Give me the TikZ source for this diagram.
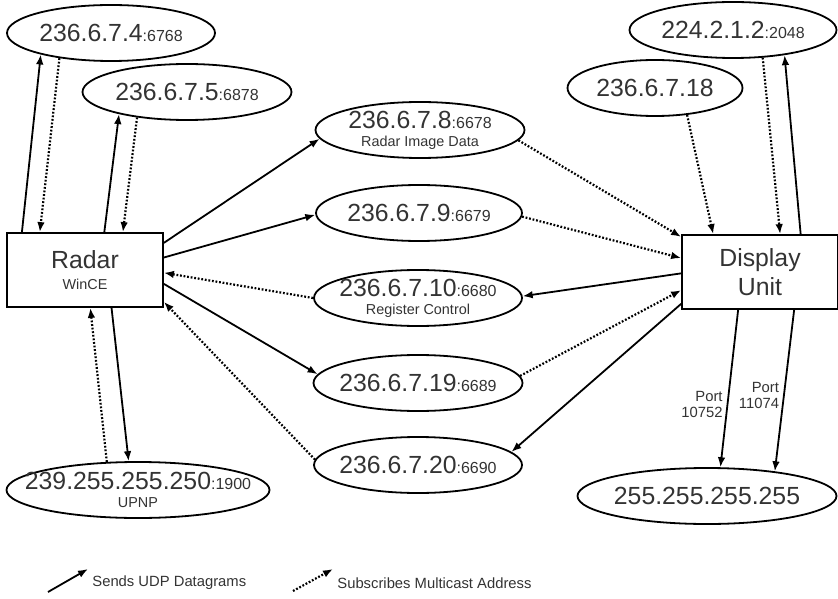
\documentclass[tikz,border=0pt]{standalone}
\usepackage{fontspec}
\setmainfont{Liberation Sans}
\usetikzlibrary{shapes.geometric,arrows.meta}

\newcommand{\bigtxt}{\fontsize{12.4}{13.5}\selectfont}
\newcommand{\ipaddr}[2]{{\bigtxt #1}{\fontsize{8}{9}\selectfont:#2}}

\begin{document}
\begin{tikzpicture}[x=0.5pt, y=-0.5pt,
    box/.style={draw, line width=0.9pt, inner sep=0pt, minimum width=78pt, minimum height=37pt,
        align=center, text=black!80, font=\fontsize{7.2}{10.5}\selectfont},
    grp/.style={ellipse, draw, line width=0.9pt, inner xsep=-12pt, inner ysep=0pt, minimum width=#1,
        minimum height=28pt, align=center, text=black!80, font=\fontsize{7.2}{9}\selectfont},
    grp/.default=104pt,
    send/.style={line width=0.9pt, -{Latex[length=5pt,width=3.8pt]}},
    subs/.style={line width=1.1pt, dash pattern=on 0.9pt off 0.9pt, -{Latex[length=5pt,width=3.8pt]}},
    port/.style={align=right, inner sep=2pt, text=black!80, font=\fontsize{7.4}{8}\selectfont},
    legend/.style={anchor=west, inner sep=0pt, text=black!80, font=\fontsize{7.4}{9}\selectfont}]
    \useasboundingbox (0,0) rectangle (838,598);

    % Radar and display unit
    \node[box] (radar) at (85,270) {{\bigtxt Radar}\\WinCE};
    \node[box, font=\fontsize{12.4}{14.5}\selectfont] (display) at (760,272) {Display\\Unit};

    % Multicast groups
    \node[grp] (ip4) at (111,33) {\ipaddr{236.6.7.4}{6768}};
    \node[grp=104.5pt] (ip5) at (187,92) {\ipaddr{236.6.7.5}{6878}};
    \node[grp=103.5pt] (ip2048) at (733,30) {\ipaddr{224.2.1.2}{2048}};
    \node[grp=87.5pt] (ip18) at (655,88) {{\bigtxt 236.6.7.18}};
    \node[grp=104.5pt] (ip8) at (420,130) {\ipaddr{236.6.7.8}{6678}\\Radar Image Data};
    \node[grp=103pt] (ip9) at (419,213) {\ipaddr{236.6.7.9}{6679}};
    \node[grp] (ip10) at (418,298) {\ipaddr{236.6.7.10}{6680}\\Register Control};
    \node[grp=104.5pt] (ip19) at (418,383) {\ipaddr{236.6.7.19}{6689}};
    \node[grp] (ip20) at (418,465) {\ipaddr{236.6.7.20}{6690}};
    \node[grp=131.5pt] (upnp) at (138,490) {\ipaddr{239.255.255.250}{1900}\\UPNP};
    \node[grp=129.5pt] (bcast) at (707,496) {{\bigtxt 255.255.255.255}};

    % Radar side
    \draw[send] (radar.149) -- (ip4.197);
    \draw[subs] (ip4.206) -- (radar.140);
    \draw[send] (radar.63) -- (ip5.198);
    \draw[subs] (ip5.207) -- (radar.45);
    \draw[subs] (upnp.138) -- (radar.278);
    \draw[send] (radar.305) -- (upnp.108);
    \draw[send] (radar.19) -- (ip8.185);
    \draw[send] (radar.9.5) -- (ip9.181);
    \draw[subs] (ip10.180) -- (radar.358);
    \draw[send] (radar.350) -- (ip19.175);
    \draw[subs] (ip20.177) -- (radar.338);

    % Display side
    \draw[subs] (ip8.354) -- (display.156);
    \draw[subs] (ip9.358) -- (display.170);
    \draw[send] (display.181) -- (ip10.1);
    \draw[subs] (ip19.4) -- (display.193);
    \draw[send] (display.202) -- (ip20.8);
    \draw[subs] (ip18.320) -- (display.141);
    \draw[subs] (ip2048.317) -- (display.62);
    \draw[send] (display.43) -- (ip2048.334);
    \draw[send] (display.240) -- node[port, pos=0.6, left] {Port\\10752} (bcast.65);
    \draw[send] (display.312) -- node[port, pos=0.53, left] {Port\\11074} (bcast.20);

    % Legend
    \coordinate (sendA) at (48,592);
    \coordinate (sendB) at (88,569);
    \draw[send] (sendA) -- (sendB);
    \node[legend] (sendtxt) at (92,583) {Sends UDP Datagrams};
    \coordinate (subsA) at (293,591);
    \coordinate (subsB) at (333,569);
    \draw[subs] (subsA) -- (subsB);
    \node[legend] (substxt) at (337,583) {Subscribes Multicast Address};
\end{tikzpicture}
\end{document}
